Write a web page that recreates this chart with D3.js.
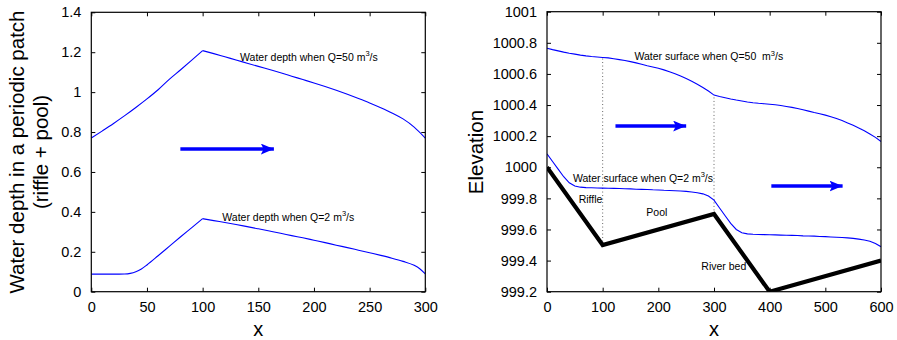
<!DOCTYPE html>
<html>
<head>
<meta charset="utf-8">
<script src="https://cdn.jsdelivr.net/npm/d3@7"></script>
<style>
  html, body { margin: 0; padding: 0; background: #fff; }
  svg { display: block; }
  text { font-family: "Liberation Sans", Arial, Helvetica, sans-serif; fill: #000; }
</style>
</head>
<body>
<svg id="chart" width="897" height="340"></svg>
<script>
// ---------- Left panel: water depth over one riffle + pool patch ----------
const depth50X = [0,10,20,30,40,50,60,70,80,90,100,110,120,130,140,150,160,170,180,190,200,210,220,230,240,250,260,270,280,290,300];
const depth50 = [0.770,0.806,0.843,0.882,0.923,0.966,1.012,1.064,1.111,1.159,1.208,1.193,1.177,1.161,1.145,1.129,1.113,1.097,1.080,1.063,1.046,1.028,1.009,0.989,0.968,0.946,0.922,0.896,0.866,0.825,0.770];

const depth2X = [0,10,20,30,35,40,45,50,60,70,80,90,100,110,120,130,140,150,160,170,180,190,200,210,220,230,240,250,260,270,280,290,295,300];
const depth2 = [0.088,0.088,0.088,0.089,0.092,0.100,0.114,0.134,0.180,0.227,0.274,0.320,0.366,0.356,0.347,0.337,0.326,0.315,0.304,0.293,0.281,0.270,0.258,0.246,0.233,0.221,0.208,0.195,0.182,0.168,0.152,0.132,0.115,0.089];

const leftXTicks = [0,50,100,150,200,250,300];
const leftXTickLabels = ["0","50","100","150","200","250","300"];
const leftYTicks = [0,0.2,0.4,0.6,0.8,1.0,1.2,1.4];
const leftYTickLabels = ["0","0.2","0.4","0.6","0.8","1","1.2","1.4"];

// ---------- Right panel: elevation along two patches ----------
const surfX = d3.range(0, 601, 10);
const surface50 = [
  1000.765,1000.756,1000.748,1000.740,1000.733,1000.727,1000.721,1000.716,1000.712,1000.709,
  1000.706,1000.703,1000.698,1000.692,1000.686,1000.679,1000.671,1000.662,1000.653,1000.645,
  1000.636,1000.626,1000.614,1000.601,1000.586,1000.570,1000.553,1000.534,1000.513,1000.490,
  1000.464,1000.455,1000.447,1000.439,1000.432,1000.426,1000.420,1000.415,1000.411,1000.408,
  1000.405,1000.402,1000.397,1000.391,1000.385,1000.378,1000.370,1000.361,1000.352,1000.344,
  1000.335,1000.325,1000.313,1000.300,1000.285,1000.270,1000.253,1000.235,1000.214,1000.192,
  1000.166];
const surface2 = [
  1000.086,1000.037,999.988,999.939,999.900,999.879,999.872,999.869,999.868,999.867,
  999.866,999.865,999.864,999.863,999.862,999.861,999.859,999.858,999.857,999.855,
  999.854,999.852,999.851,999.849,999.847,999.845,999.841,999.836,999.829,999.815,
  999.789,999.738,999.688,999.639,999.600,999.579,999.572,999.569,999.568,999.567,
  999.566,999.565,999.564,999.563,999.562,999.561,999.559,999.558,999.557,999.555,
  999.554,999.552,999.550,999.548,999.546,999.543,999.538,999.532,999.524,999.510,
  999.489];

const bedX = [0,100,300,400,600];
const bedZ = [1000,999.5,999.7,999.2,999.4];

// riffle/pool boundaries, drawn from the bed up to the high-flow surface
const boundaryX = [100,300];
const boundaryBottom = [999.5,999.7];
const boundaryTop = [1000.706,1000.464];

const rightXTicks = [0,100,200,300,400,500,600];
const rightXTickLabels = ["0","100","200","300","400","500","600"];
const rightYTicks = [999.2,999.4,999.6,999.8,1000,1000.2,1000.4,1000.6,1000.8,1001];
const rightYTickLabels = ["999.2","999.4","999.6","999.8","1000","1000.2","1000.4","1000.6","1000.8","1001"];

// flow direction arrows (data coordinates)
const leftArrows = [{x0: 80, x1: 164, y: 0.715}];
const rightArrows = [{x0: 123, x1: 250, y: 1000.265}, {x0: 403, x1: 531, y: 999.879}];

const svg = d3.select("#chart");
const defs = svg.append("defs");
defs.append("marker")
  .attr("id", "flowHead")
  .attr("viewBox", "0 0 12 10")
  .attr("refX", 12).attr("refY", 5)
  .attr("markerUnits", "userSpaceOnUse")
  .attr("markerWidth", 13).attr("markerHeight", 11)
  .attr("orient", "auto")
  .append("path")
  .attr("d", "M0,0 L12,5 L0,10 L2.5,5 Z")
  .attr("fill", "#0000ff");

function panel(opt) {
  const g = svg.append("g");
  const x = d3.scaleLinear().domain(opt.xDomain).range([opt.left, opt.right]);
  const y = d3.scaleLinear().domain(opt.yDomain).range([opt.bottom, opt.top]);

  defs.append("clipPath").attr("id", opt.id + "-clip")
    .append("rect")
    .attr("x", opt.left).attr("y", opt.top)
    .attr("width", opt.right - opt.left).attr("height", opt.bottom - opt.top);

  const tickFont = (sel) => sel.selectAll("text")
    .style("font-size", "14.5px")
    .style("font-family", "'Liberation Sans', Arial, sans-serif")
    .attr("fill", "#000");

  // left axis with labels, inward ticks
  g.append("g").attr("transform", `translate(${opt.left},0)`)
    .call(d3.axisLeft(y).tickValues(opt.yTicks).tickSize(-4).tickPadding(10)
      .tickFormat((d, i) => opt.yTickLabels[i]))
    .call(a => a.select(".domain").remove())
    .call(tickFont);
  // right axis: ticks only
  g.append("g").attr("transform", `translate(${opt.right},0)`)
    .call(d3.axisRight(y).tickValues(opt.yTicks).tickSize(-4).tickFormat(""))
    .call(a => a.select(".domain").remove());
  // bottom axis with labels
  g.append("g").attr("transform", `translate(0,${opt.bottom})`)
    .call(d3.axisBottom(x).tickValues(opt.xTicks).tickSize(-4).tickPadding(10)
      .tickFormat((d, i) => opt.xTickLabels[i]))
    .call(a => a.select(".domain").remove())
    .call(tickFont);
  // top axis: ticks only
  g.append("g").attr("transform", `translate(0,${opt.top})`)
    .call(d3.axisTop(x).tickValues(opt.xTicks).tickSize(-4).tickFormat(""))
    .call(a => a.select(".domain").remove());

  g.selectAll(".tick line").attr("stroke", "#000").attr("stroke-width", 1);

  const plot = g.append("g").attr("clip-path", `url(#${opt.id}-clip)`);

  // frame
  g.append("rect")
    .attr("x", opt.left).attr("y", opt.top)
    .attr("width", opt.right - opt.left).attr("height", opt.bottom - opt.top)
    .attr("fill", "none").attr("stroke", "#000").attr("stroke-width", 1.2);

  // x-axis title
  g.append("text")
    .attr("x", (opt.left + opt.right) / 2).attr("y", 336)
    .attr("text-anchor", "middle")
    .style("font-size", "20px")
    .text("x");

  return { g, plot, x, y };
}

function addLabel(p, xv, yv, main, sup, tail) {
  const t = p.g.append("text")
    .attr("x", p.x(xv)).attr("y", p.y(yv))
    .style("font-size", "10.5px")
    .attr("fill", "#111");
  t.append("tspan").text(main);
  if (sup) {
    t.append("tspan").attr("dy", -4.5).style("font-size", "7.5px").text(sup);
    t.append("tspan").attr("dy", 4.5).text(tail);
  }
  return t;
}

function addArrows(p, arrows) {
  p.g.selectAll(null).data(arrows).enter().append("line")
    .attr("x1", d => p.x(d.x0)).attr("x2", d => p.x(d.x1))
    .attr("y1", d => p.y(d.y)).attr("y2", d => p.y(d.y))
    .attr("stroke", "#0000ff").attr("stroke-width", 3.5)
    .attr("marker-end", "url(#flowHead)");
}

// ===== Left panel =====
const L = panel({
  id: "left", left: 91.3, right: 425.3, top: 12.3, bottom: 291.7,
  xDomain: [0, 300], yDomain: [0, 1.4],
  xTicks: leftXTicks, xTickLabels: leftXTickLabels,
  yTicks: leftYTicks, yTickLabels: leftYTickLabels
});

const lineL = d3.line().x(d => L.x(d[0])).y(d => L.y(d[1])).curve(d3.curveMonotoneX);

// each depth profile is drawn as a riffle piece (x <= 100) and a pool piece (x >= 100),
// so the sharp crest at the riffle/pool boundary stays a corner
function drawProfile(xs, ys) {
  const pts = xs.map((v, i) => [v, ys[i]]);
  [pts.filter(d => d[0] <= 100), pts.filter(d => d[0] >= 100)].forEach(part => {
    L.plot.append("path")
      .datum(part)
      .attr("d", lineL).attr("fill", "none").attr("stroke", "#0000ff").attr("stroke-width", 1.1);
  });
}
drawProfile(depth50X, depth50);
drawProfile(depth2X, depth2);

addLabel(L, 133.6, 1.157, "Water depth when Q=50 m", "3", "/s");
addLabel(L, 117.7, 0.356, "Water depth when Q=2 m", "3", "/s");
addArrows(L, leftArrows);

// y title (two lines)
svg.append("text")
  .attr("transform", "translate(24,152) rotate(-90)")
  .attr("text-anchor", "middle")
  .style("font-size", "20.5px")
  .text("Water depth in a periodic patch");
svg.append("text")
  .attr("transform", "translate(48,152) rotate(-90)")
  .attr("text-anchor", "middle")
  .style("font-size", "20.5px")
  .text("(riffle + pool)");

// ===== Right panel =====
const R = panel({
  id: "right", left: 547, right: 881, top: 11.7, bottom: 291.7,
  xDomain: [0, 600], yDomain: [999.2, 1001],
  xTicks: rightXTicks, xTickLabels: rightXTickLabels,
  yTicks: rightYTicks, yTickLabels: rightYTickLabels
});

const lineR = d3.line().x(d => R.x(d[0])).y(d => R.y(d[1]));

// riffle/pool boundaries (dotted)
R.plot.selectAll(null).data(boundaryX).enter().append("line")
  .attr("x1", d => R.x(d)).attr("x2", d => R.x(d))
  .attr("y1", (d, i) => R.y(boundaryBottom[i])).attr("y2", (d, i) => R.y(boundaryTop[i]))
  .attr("stroke", "#666").attr("stroke-width", 1).attr("stroke-dasharray", "1,2.5");

R.plot.append("path")
  .datum(surfX.map((v, i) => [v, surface50[i]]))
  .attr("d", lineR).attr("fill", "none").attr("stroke", "#0000ff").attr("stroke-width", 1.1);
R.plot.append("path")
  .datum(surfX.map((v, i) => [v, surface2[i]]))
  .attr("d", lineR).attr("fill", "none").attr("stroke", "#0000ff").attr("stroke-width", 1.1);
R.plot.append("path")
  .datum(bedX.map((v, i) => [v, bedZ[i]]))
  .attr("d", lineR).attr("fill", "none").attr("stroke", "#000").attr("stroke-width", 4.2)
  .attr("stroke-linejoin", "miter");

addLabel(R, 157, 1000.689, "Water surface when Q=50\u00a0\u00a0m", "3", "/s");
addLabel(R, 46.7, 999.907, "Water surface when Q=2 m", "3", "/s");
addLabel(R, 56.9, 999.772, "Riffle");
addLabel(R, 178.4, 999.689, "Pool");
addLabel(R, 277.2, 999.339, "River bed");
addArrows(R, rightArrows);

svg.append("text")
  .attr("transform", "translate(483,152) rotate(-90)")
  .attr("text-anchor", "middle")
  .style("font-size", "20.5px")
  .text("Elevation");
</script>
</body>
</html>
